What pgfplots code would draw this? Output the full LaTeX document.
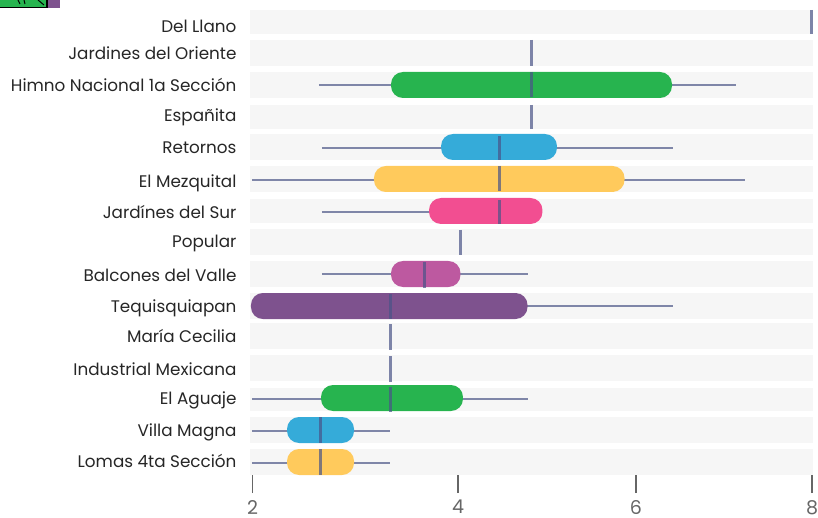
\documentclass[border=0pt]{standalone}
\usepackage{fontspec}
\setmainfont{Poppins}
\usepackage{pgfplots}
\pgfplotsset{compat=1.18}
\definecolor{cband}{HTML}{F6F6F6}
\definecolor{cwh}{HTML}{7F86A8}
\definecolor{cmed}{HTML}{4A5488}
\definecolor{cgreen}{HTML}{27B44F}
\definecolor{cblue}{HTML}{35ABD9}
\definecolor{cyel}{HTML}{FFCA5C}
\definecolor{cpink}{HTML}{F24E91}
\definecolor{cmauve}{HTML}{BD59A0}
\definecolor{cpurp}{HTML}{7E528E}
% #1 top, #2 bottom of the band
\newcommand\band[2]{\addplot[draw=none,fill=cband,forget plot] coordinates {(1.976,#1)(8.011,#1)(8.011,#2)(1.976,#2)} --cycle;}
\newcommand\whisk[3]{\addplot[draw=cwh,line width=1.6pt,forget plot] coordinates {(#1,#3)(#2,#3)};}
\newcommand\pill[5]{\addplot[draw=none,fill=#1,rounded corners=12pt,forget plot] coordinates {(#2,#4)(#3,#4)(#3,#5)(#2,#5)} --cycle;}
\newcommand\med[3]{\addplot[draw=cmed,opacity=.7,line width=3pt,forget plot] coordinates {(#1,#2)(#1,#3)};}
\begin{document}
\begin{tikzpicture}[x=1pt,y=1pt]
\useasboundingbox (0,0) rectangle (818,518);
\fill[cpurp] (40,510) rectangle (60,518);
\fill[cgreen] (0,510) rectangle (47,518);
\draw[black,line width=1.2pt] (0,510.5) -- (47,510.5) -- (47,518);
\draw[black,line width=1pt] (18,518) -- (20,514) (24,518) -- (25,514) (38,518) -- (44,513);
\begin{axis}[
  at={(250pt,43pt)},anchor=south west,
  scale only axis,width=563pt,height=465pt,
  x filter/.code={\pgfmathparse{#1<4 ? 252.5+102.75*(#1-2) : (#1<6 ? 458+89*(#1-4) : 636+88*(#1-6))}},
  xmin=250,xmax=813,
  ymin=10,ymax=475,y dir=reverse,
  axis line style={draw=none},
  axis x line*=bottom,axis y line*=left,
  xtick={252.5,458,636,812},xticklabels={2,4,6,8},
  ytick={26,53,85,115,147,181,212,241,275,306,336,369,398,430,461},
  yticklabels={Del Llano,Jardines del Oriente,Himno Nacional 1a Sección,Españita,Retornos,El Mezquital,Jardínes del Sur,Popular,Balcones del Valle,Tequisquiapan,María Cecilia,Industrial Mexicana,El Aguaje,Villa Magna,Lomas 4ta Sección},
  tick align=outside,
  x tick style={draw=black!60,line width=1.5pt},
  y tick style={draw=none},
  major tick length=18pt,
  xtick pos=bottom,ytick pos=left,
  xticklabel style={font=\fontsize{19}{19}\selectfont,text=black!60,inner sep=0pt,yshift=-7pt},
  yticklabel style={font=\fontsize{16.8}{16.8}\selectfont,text=black!85,anchor=east,text height=12pt,text depth=4pt,xshift=8pt,yshift=-2.5pt},
  /pgf/number format/assume math mode=true,
  clip=false,
]
\band{10}{34}\band{40}{66}\band{72}{98}\band{105}{129}\band{134}{160}
\band{166}{192}\band{199}{223}\band{229}{255}\band{261}{287}\band{293}{319}
\band{323}{349}\band{355}{381}\band{388}{411}\band{417}{443}\band{449}{475}
% Del Llano, Jardines del Oriente
\med{7.989}{10}{34}
\med{4.826}{40}{66}
% Himno
\whisk{2.647}{7.136}{85}
\pill{cgreen}{3.348}{6.409}{72}{98}
\med{4.826}{72}{97}
% Espanita
\med{4.826}{105}{129}
% Retornos
\whisk{2.676}{6.42}{148}
\pill{cblue}{3.835}{5.112}{134}{160}
\med{4.466}{136}{160}
% Mezquital
\whisk{1.995}{7.239}{180}
\pill{cyel}{3.182}{5.871}{166}{192}
\med{4.466}{166}{191}
% Jardines del Sur
\whisk{2.676}{4.8}{212}
\pill{cpink}{3.718}{4.949}{198}{224}
\med{4.466}{200}{224}
% Popular
\med{4.028}{230}{255}
% Balcones
\whisk{2.676}{4.787}{274}
\pill{cmauve}{3.348}{4.028}{261}{287}
\med{3.678}{262}{288}
% Tequisquiapan
\whisk{3}{6.42}{306}
\pill{cpurp}{1.985}{4.781}{293}{319}
\med{3.343}{294}{319}
% Maria, Industrial
\med{3.343}{324}{350}
\med{3.343}{356}{382}
% Aguaje
\whisk{1.995}{4.787}{399}
\pill{cgreen}{2.667}{4.056}{385}{411}
\med{3.343}{387}{412}
% Villa Magna
\whisk{1.995}{3.338}{431}
\pill{cblue}{2.336}{2.988}{417}{443}
\med{2.662}{417}{443}
% Lomas
\whisk{1.995}{3.338}{463}
\pill{cyel}{2.336}{2.988}{449}{475}
\med{2.662}{449}{475}
\end{axis}
\end{tikzpicture}
\end{document}
